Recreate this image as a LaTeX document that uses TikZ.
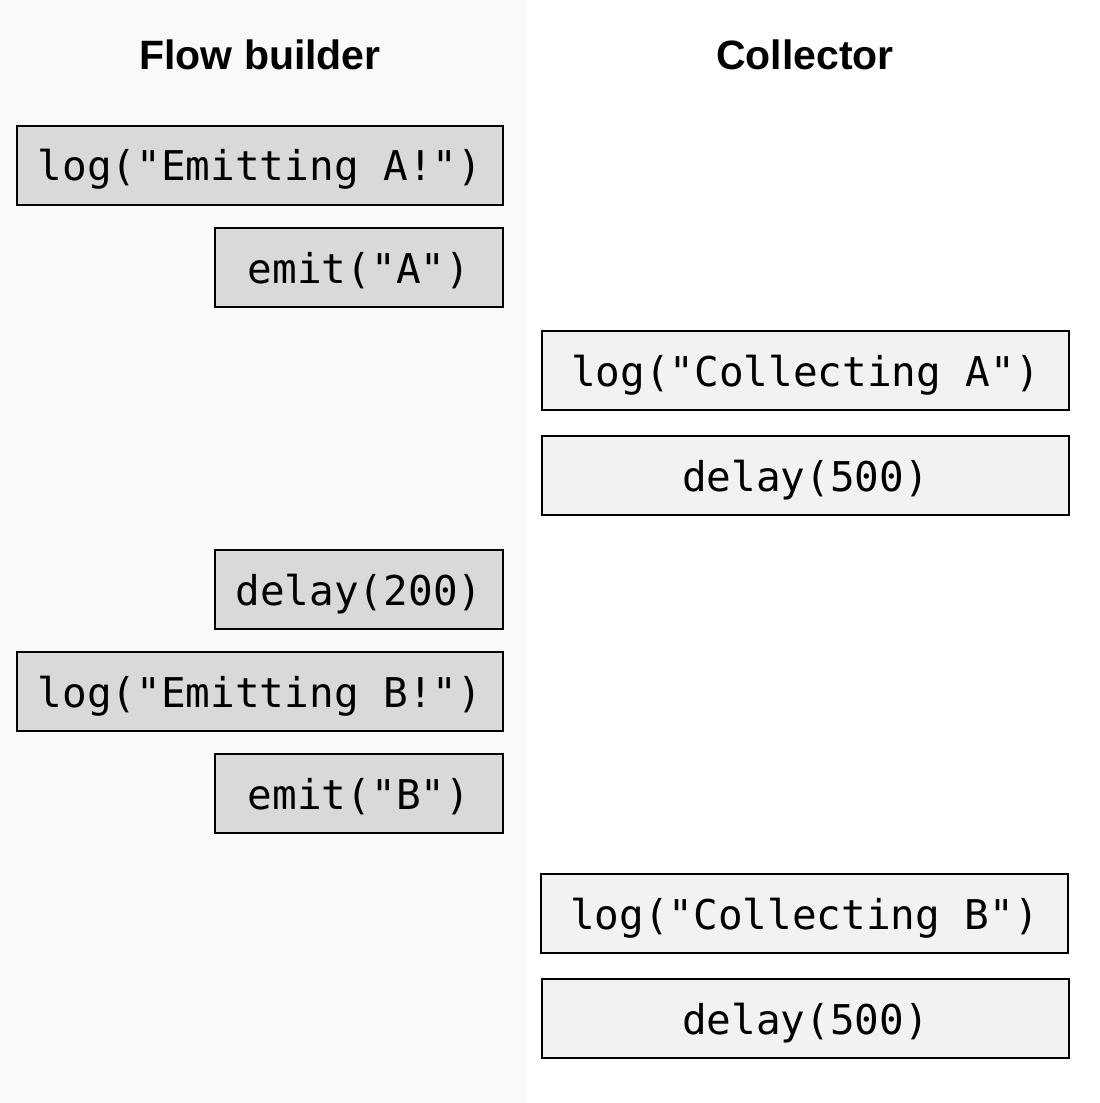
\documentclass[tikz,border=0pt]{standalone}
\usepackage{fontspec}
\newfontfamily\codefont{DejaVu Sans Mono}
\newfontfamily\headfont{Liberation Sans}
\definecolor{colbg}{HTML}{F9F9F9}
\definecolor{emitfill}{HTML}{D9D9D9}
\definecolor{collfill}{HTML}{F2F2F2}

\begin{document}
\begin{tikzpicture}[x=1pt,y=-1pt,
    head/.style={font=\headfont\bfseries\fontsize{41}{48}\selectfont},
    code/.style={draw=black,line width=2pt,inner sep=0pt,minimum height=79pt,
                 text height=33pt,text depth=2pt,
                 font=\codefont\fontsize{41}{48}\selectfont},
    emitbox/.style={code,fill=emitfill},
    collbox/.style={code,fill=collfill}]
\useasboundingbox (0,0) rectangle (1100,1103);
\fill [colbg] (0,0) rectangle (527,1103);
% column titles
    \node[head] (FB) at (260,55) {Flow builder};
    \node[head] (CO) at (805,55) {Collector};
% flow builder side
\node[emitbox,minimum width=486pt] (logA) at (260,165) {log("Emitting A!")};
\node[emitbox,minimum width=288pt] (emitA) at (359,267.5) {emit("A")};
\node[emitbox,minimum width=288pt] (delayB) at (359,589.5) {delay(200)};
\node[emitbox,minimum width=486pt] (logB) at (260,691.5) {log("Emitting B!")};
\node[emitbox,minimum width=288pt] (emitB) at (359,793.5) {emit("B")};
% collector side
\node[collbox,minimum width=527pt] (collA) at (805.5,370.5) {log("Collecting A")};
\node[collbox,minimum width=527pt] (waitA) at (805.5,475.5) {delay(500)};
\node[collbox,minimum width=527pt] (collB) at (804.5,913.5) {log("Collecting B")};
\node[collbox,minimum width=527pt] (waitB) at (805.5,1018.5) {delay(500)};

  \end{tikzpicture}
\end{document}
